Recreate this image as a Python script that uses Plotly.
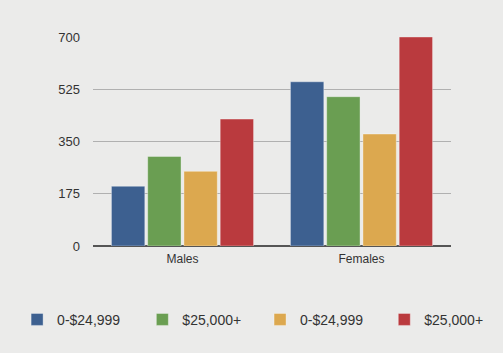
import plotly.graph_objects as go

categories = ["Males", "Females"]
series_names = ["0-$24,999", "$25,000+", "0-$24,999", "$25,000+"]
series_values = [
    [200, 550],
    [300, 500],
    [250, 375],
    [425, 700],
]
colors = ["#3d6090", "#6a9e52", "#dca84f", "#ba3a3e"]
tick_vals = [0, 175, 350, 525, 700]
legend_x = [0.034, 0.283, 0.517, 0.764]

fig = go.Figure()
legend_ids = ["legend", "legend2", "legend3", "legend4"]
for name, vals, col, lid in zip(series_names, series_values, colors, legend_ids):
    fig.add_trace(go.Bar(
        x=categories, y=vals, name=name, legend=lid,
        marker=dict(color=col, line=dict(color="rgba(255,255,255,0.35)", width=1)),
    ))

legend_common = dict(orientation="h", xref="container", yref="container",
                     xanchor="left", y=0.094, yanchor="middle",
                     font=dict(size=14, color="#333333"), bgcolor="rgba(0,0,0,0)")

fig.update_layout(
    width=503, height=353,
    margin=dict(l=93, r=52, t=37, b=107, autoexpand=False),
    paper_bgcolor="#ebebea", plot_bgcolor="#ebebea",
    barmode="group", bargap=0.19, bargroupgap=0.08,
    font=dict(family="Liberation Sans, Arial, sans-serif", size=13, color="#333333"),
    showlegend=True,
    legend=dict(x=legend_x[0], **legend_common),
    legend2=dict(x=legend_x[1], **legend_common),
    legend3=dict(x=legend_x[2], **legend_common),
    legend4=dict(x=legend_x[3], **legend_common),
    xaxis=dict(showgrid=False, showline=False, ticks="", ticklabelstandoff=4,
               tickfont=dict(size=12)),
    yaxis=dict(range=[0, 700], tickvals=tick_vals, showgrid=True, gridcolor="#b0b0b0",
               gridwidth=1, zeroline=True, zerolinecolor="#555555", zerolinewidth=2,
               ticks="", ticklabelstandoff=12, tickfont=dict(size=13)),
)
fig.write_html("out.html")
